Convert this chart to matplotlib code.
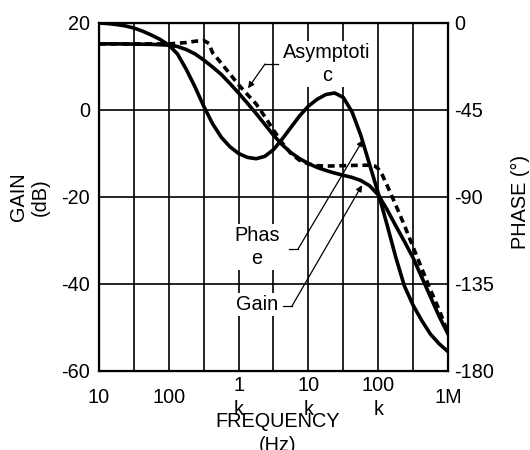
import matplotlib
matplotlib.use("Agg")
import matplotlib.pyplot as plt

plt.rcParams['font.family'] = ['Liberation Sans', 'DejaVu Sans']
plt.rcParams['axes.unicode_minus'] = False

# frequency (Hz) / values
phase_freq = [10, 13.3, 17.8, 23.7, 31.6, 42, 56, 75, 100, 133, 178, 237, 316, 422,
              562, 750, 1000, 1330, 1780, 2370, 3160, 4220, 5620, 7500, 10000,
              13300, 17800, 23700, 31600, 42200, 56200, 75000, 100000, 133000,
              178000, 237000, 316000, 422000, 562000, 750000, 1000000]
phase_deg = [0, -0.3, -0.8, -1.5, -2.6, -4.2, -6.2, -8.5, -11.4, -16, -24, -33, -43, -52,
             -59, -64, -67.5, -69.5, -70.2, -69, -65.5, -60, -54, -48, -43,
             -39.5, -37, -36.2, -38.5, -46, -58, -73, -88, -104,
             -121, -136, -146, -154, -161, -166, -170]

gain_freq = [10, 17.8, 31.6, 56, 100, 133, 178, 237, 316, 422, 562, 750, 1000, 1330,
             1780, 2370, 3160, 4220, 5620, 7500, 10000, 13300, 17800, 23700, 31600,
             42200, 56200, 75000, 100000, 133000, 178000, 237000, 316000, 422000,
             562000, 750000, 1000000]
gain_db = [15.2, 15.2, 15.15, 15.1, 14.9, 14.6, 13.9, 12.9, 11.5, 9.9, 8.2, 6.1, 3.9, 1.6,
           -0.8, -3.3, -5.8, -8, -9.8, -11.2, -12.3, -13.2, -13.9, -14.5, -15,
           -15.5, -16.2, -17.4, -19.5, -22.8, -26.6, -30.2, -34, -38.5,
           -43, -47.5, -51.5]

asym_freq = [10, 31.6, 100, 178, 237, 316, 375, 422, 562, 750, 1000, 1330, 1780, 2370,
             3160, 4220, 5620, 7500, 10000, 13300, 17800, 31600, 56200, 75000, 90000,
             100000, 115000, 133000, 178000, 237000, 316000, 422000, 562000, 750000,
             1000000]
asym_db = [15.2, 15.2, 15.2, 15.5, 15.8, 16.0, 15.3, 13.2, 10.8, 8.3, 5.8, 3.6, 1.4, -1.5,
           -4.6, -7.6, -10, -11.6, -12.4, -12.8, -12.9, -12.8, -12.7, -12.7, -12.9,
           -13.5, -15, -17.2, -21.8, -26.5, -31.5, -36.5, -41.4, -46,
           -51.3]

x_ticks = [10, 100, 1e3, 1e4, 1e5, 1e6]
x_labels = ["10", "100", "1\nk", "10\nk", "100\nk", "1M"]
x_grid = [31.6, 316, 3160, 31600, 316000]
gain_ticks = [20, 0, -20, -40, -60]
phase_ticks = [0, -45, -90, -135, -180]

fs = 14.3
fig = plt.figure(figsize=(5.3, 4.5), dpi=100)
ax = fig.add_axes([0.1868, 0.1756, 0.6585, 0.7733])
ax.set_xscale('log')
ax.set_xlim(10, 1e6)
ax.set_ylim(-60, 20)
ax.set_xticks(x_ticks)
ax.set_xticklabels(x_labels)
ax.set_xticks(x_grid, minor=True)
ax.set_xticklabels([], minor=True)
ax.set_yticks(gain_ticks)
ax.tick_params(axis='x', which='both', length=0, pad=19, labelsize=fs)
ax.tick_params(axis='y', length=0, pad=6.5, labelsize=fs)
for lab in ax.get_xticklabels():
    lab.set_verticalalignment('center')
    lab.set_linespacing(1.3)
ax.grid(True, which='both', color='black', lw=1.2)
for s in ax.spines.values():
    s.set_linewidth(1.6)

ax.plot(gain_freq, gain_db, color='black', lw=2.6, solid_joinstyle='round')
ax.plot(asym_freq, asym_db, color='black', lw=2.6, dashes=(1.9, 1.3))

ax2 = ax.twinx()
ax2.set_ylim(-180, 0)
ax2.set_yticks(phase_ticks)
ax2.tick_params(axis='y', length=0, pad=4.5, labelsize=fs)
ax2.plot(phase_freq, phase_deg, color='black', lw=2.6, solid_joinstyle='round')

ax.set_xlabel("FREQUENCY\n(Hz)", fontsize=fs, linespacing=1.3)
ax.xaxis.set_label_coords(0.513, -0.118)
ax.set_ylabel("GAIN\n(dB)", fontsize=fs)
ax.yaxis.set_label_coords(-0.14, 0.5)
ax2.set_ylabel("PHASE (°)", fontsize=fs)
ax2.yaxis.set_label_coords(1.18, 0.486)

box = dict(facecolor='white', edgecolor='none', pad=1.5)
arrow = dict(arrowstyle='-|>', color='black', lw=0.9, mutation_scale=9,
             shrinkA=0, shrinkB=0)

# annotations: label, label pos, leader start, corner, arrow tip
notes = [
    ("Asymptoti\nc", (18450, 10.6), (3665, 10.57), (2390, 10.57), (1365, 5.0)),
    ("Phas\ne", (1837, -31.5), (5270, -31.96), (7100, -31.96), (60500, -6.9)),
    ("Gain", (1837, -44.8), (4325, -45.06), (5820, -45.06), (58600, -17.3)),
]
for text, pos, start, corner, tip in notes:
    ax.text(pos[0], pos[1], text, ha='center', va='center', fontsize=fs,
            bbox=box, zorder=4, linespacing=1.3)
    ax.plot([start[0], corner[0]], [start[1], corner[1]], color='black', lw=0.9, zorder=4)
    ax.annotate("", xy=tip, xytext=corner, arrowprops=arrow, zorder=4)

fig.savefig("out.png", dpi=100)
